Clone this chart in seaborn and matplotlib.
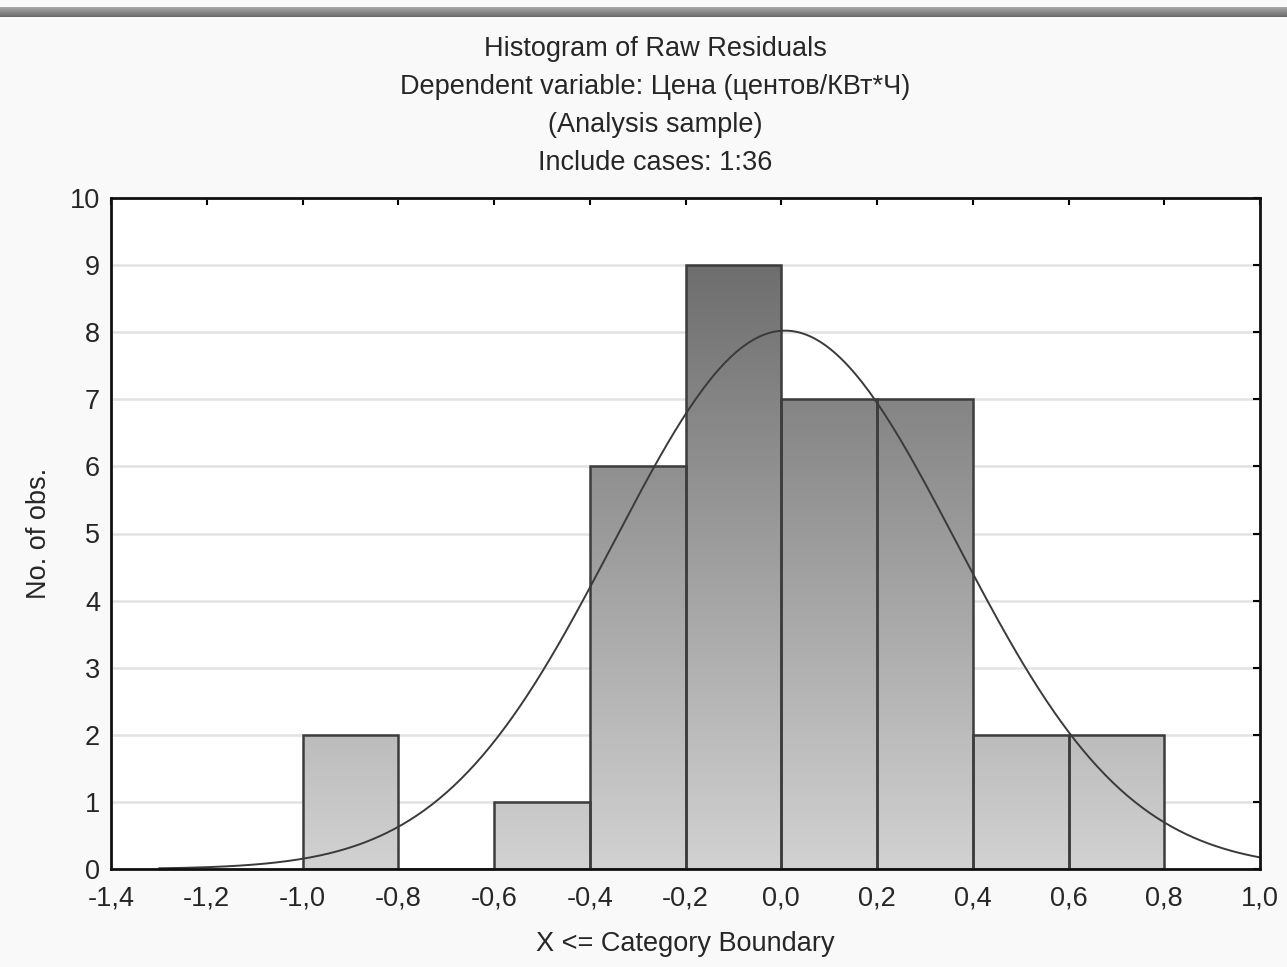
import numpy as np
import pandas as pd
import matplotlib
matplotlib.use('Agg')
import matplotlib.pyplot as plt
import seaborn as sns

# Histogram data
bin_edges = [-1.0, -0.8, -0.6, -0.4, -0.2, 0.0, 0.2, 0.4, 0.6, 0.8]
bin_counts = [2, 0, 1, 6, 9, 7, 7, 2, 2]
bin_centers = [(a + b) / 2 for a, b in zip(bin_edges[:-1], bin_edges[1:])]

# Fitted normal curve (parameters)
fit_mean = 0.008
fit_sd = 0.358
n_obs = 36
bin_width = 0.2
curve_start, curve_end = -1.3, 1.0

x_ticks = [-1.4, -1.2, -1.0, -0.8, -0.6, -0.4, -0.2, 0.0, 0.2, 0.4, 0.6, 0.8, 1.0]
y_ticks = list(range(0, 11))

title_lines = ["Histogram of Raw Residuals",
               "Dependent variable: Цена (центов/КВт*Ч)",
               "(Analysis sample)",
               "Include cases: 1:36"]

sns.set_style("white")
plt.rcParams['font.family'] = ['Liberation Sans', 'DejaVu Sans']
fs = 19.5

fig = plt.figure(figsize=(12.87, 9.67), dpi=100, facecolor='#f9f9f9')
ax = fig.add_axes([111 / 1287, 1 - 869 / 967, 1149 / 1287, 671 / 967])
ax.set_facecolor('white')

df = pd.DataFrame({'x': bin_centers, 'n': bin_counts})
sns.histplot(data=df, x='x', weights='n', bins=bin_edges, ax=ax,
             edgecolor='#3c3c3c', linewidth=1.8, facecolor='none', zorder=3)

# vertical gray gradient, darker with height, clipped to each bar
grad = np.linspace(0, 1, 256).reshape(-1, 1)
cmap = matplotlib.colors.LinearSegmentedColormap.from_list('g', ['#d2d2d2', '#6e6e6e'])
for p in ax.patches:
    if p.get_height() <= 0:
        continue
    im = ax.imshow(grad, cmap=cmap, origin='lower', aspect='auto',
                   extent=[-1.4, 1.0, 0, 9], vmin=0, vmax=1, zorder=2)
    im.set_clip_path(p)

# normal curve
xs = np.linspace(curve_start, curve_end, 300)
ys = n_obs * bin_width / (fit_sd * np.sqrt(2 * np.pi)) * np.exp(-0.5 * ((xs - fit_mean) / fit_sd) ** 2)
sns.lineplot(x=xs, y=ys, ax=ax, color='#3a3a3a', linewidth=1.4, zorder=4)

ax.set_xlim(-1.4, 1.0)
ax.set_ylim(0, 10)
ax.set_xticks(x_ticks)
ax.set_xticklabels([f"{t:.1f}".replace('.', ',') for t in x_ticks])
ax.set_yticks(y_ticks)
ax.yaxis.grid(True, color='#e2e2e2', linewidth=1.8, zorder=0)
ax.set_axisbelow(True)
ax.tick_params(direction='in', length=5, width=1.5, color='black',
               top=True, right=True, labelsize=fs)
ax.tick_params(axis='x', pad=12)
ax.tick_params(axis='y', pad=8)
for s in ax.spines.values():
    s.set_color('#111111')
    s.set_linewidth(2)
    s.set_zorder(5)

ax.set_xlabel("X <= Category Boundary", fontsize=fs, labelpad=14)
ax.set_ylabel("No. of obs.", fontsize=fs, labelpad=13)

for i, line in enumerate(title_lines):
    fig.text(655 / 1287, 1 - (49 + i * 38) / 967, line, ha='center', va='center',
             fontsize=fs)

# gray band at the top edge
band = fig.add_axes([0, 1 - 17 / 967, 1, 10 / 967])
band.imshow(np.linspace(0, 1, 64).reshape(-1, 1), cmap=matplotlib.colors.LinearSegmentedColormap.from_list('b', ['#a8a8a8', '#6a6a6a']),
            aspect='auto')
band.axis('off')

fig.savefig('out.png', dpi=100, facecolor=fig.get_facecolor())
